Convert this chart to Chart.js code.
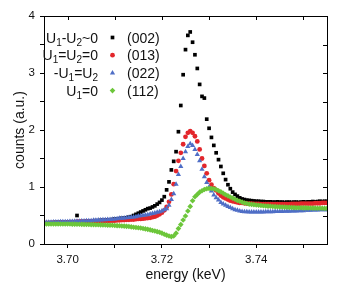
<!DOCTYPE html>
<html>
<head>
<meta charset="utf-8">
<script src="https://cdn.jsdelivr.net/npm/chart.js@4.4.1/dist/chart.umd.min.js"></script>
<style>
  html, body { margin: 0; padding: 0; background: #fff; }
  canvas { display: block; }
</style>
</head>
<body>
<canvas id="chart" width="339" height="289"></canvas>
<script>
// energy grid (keV)
const energy = [
  3.6955, 3.6960, 3.6965, 3.6970, 3.6975, 3.6980, 3.6985, 3.6990, 3.6995, 3.7000,
  3.7005, 3.7010, 3.7015, 3.7020, 3.7025, 3.7030, 3.7035, 3.7040, 3.7045, 3.7050,
  3.7055, 3.7060, 3.7065, 3.7070, 3.7075, 3.7080, 3.7085, 3.7090, 3.7095, 3.7100,
  3.7105, 3.7110, 3.7115, 3.7120, 3.7125, 3.7130, 3.7135, 3.7140, 3.7145, 3.7150,
  3.7155, 3.7160, 3.7165, 3.7170, 3.7175, 3.7180, 3.7185, 3.7190, 3.7195, 3.7200,
  3.7205, 3.7210, 3.7215, 3.7220, 3.7225, 3.7230, 3.7235, 3.7240, 3.7245, 3.7250,
  3.7255, 3.7260, 3.7265, 3.7270, 3.7275, 3.7280, 3.7285, 3.7290, 3.7295, 3.7300,
  3.7305, 3.7310, 3.7315, 3.7320, 3.7325, 3.7330, 3.7335, 3.7340, 3.7345, 3.7350,
  3.7355, 3.7360, 3.7365, 3.7370, 3.7375, 3.7380, 3.7385, 3.7390, 3.7395, 3.7400,
  3.7405, 3.7410, 3.7415, 3.7420, 3.7425, 3.7430, 3.7435, 3.7440, 3.7445, 3.7450,
  3.7455, 3.7460, 3.7465, 3.7470, 3.7475, 3.7480, 3.7485, 3.7490, 3.7495, 3.7500,
  3.7505, 3.7510, 3.7515, 3.7520, 3.7525, 3.7530, 3.7535, 3.7540, 3.7545, 3.7550
];

// (002)  U1-U2~0
const counts002 = [
  0.37, 0.37, 0.375, 0.37, 0.38, 0.38, 0.375, 0.385, 0.38, 0.385,
  0.385, 0.39, 0.385, 0.50, 0.39, 0.395, 0.39, 0.40, 0.40, 0.405,
  0.405, 0.41, 0.405, 0.415, 0.415, 0.42, 0.42, 0.425, 0.43, 0.435,
  0.44, 0.445, 0.45, 0.455, 0.46, 0.47, 0.48, 0.50, 0.52, 0.54,
  0.56, 0.58, 0.60, 0.62, 0.63, 0.65, 0.67, 0.70, 0.73, 0.77,
  0.83, 0.95, 1.09, 1.30, 1.45, 1.62, 1.97, 2.43, 2.97, 3.41,
  3.66, 3.72, 3.54, 3.32, 3.08, 2.80, 2.59, 2.56, 2.19, 2.03,
  1.87, 1.73, 1.60, 1.48, 1.36, 1.24, 1.13, 1.04, 0.97, 0.91,
  0.87, 0.84, 0.81, 0.79, 0.78, 0.77, 0.765, 0.76, 0.755, 0.75,
  0.75, 0.745, 0.745, 0.74, 0.74, 0.74, 0.735, 0.735, 0.74, 0.735,
  0.735, 0.73, 0.735, 0.735, 0.73, 0.735, 0.735, 0.73, 0.735, 0.74,
  0.735, 0.74, 0.74, 0.745, 0.74, 0.745, 0.75, 0.745, 0.75, 0.75
];

// (013)  U1=U2=0
const counts013 = [
  0.37, 0.37, 0.37, 0.375, 0.375, 0.375, 0.38, 0.38, 0.38, 0.38,
  0.385, 0.385, 0.385, 0.39, 0.39, 0.39, 0.39, 0.395, 0.395, 0.395,
  0.40, 0.40, 0.40, 0.40, 0.405, 0.405, 0.405, 0.41, 0.41, 0.41,
  0.415, 0.415, 0.42, 0.42, 0.425, 0.425, 0.43, 0.43, 0.435, 0.44,
  0.44, 0.445, 0.45, 0.455, 0.46, 0.47, 0.48, 0.50, 0.52, 0.55,
  0.59, 0.65, 0.74, 0.87, 1.05, 1.28, 1.46, 1.60, 1.75, 1.88,
  1.95, 1.98, 1.95, 1.89, 1.80, 1.66, 1.50, 1.37, 1.24, 1.12,
  1.04, 0.98, 0.94, 0.89, 0.85, 0.82, 0.80, 0.78, 0.76, 0.75,
  0.74, 0.73, 0.72, 0.72, 0.715, 0.71, 0.71, 0.71, 0.705, 0.705,
  0.705, 0.70, 0.70, 0.70, 0.70, 0.70, 0.70, 0.70, 0.70, 0.70,
  0.70, 0.70, 0.70, 0.70, 0.705, 0.705, 0.705, 0.705, 0.71, 0.71,
  0.71, 0.71, 0.71, 0.71, 0.715, 0.715, 0.715, 0.72, 0.72, 0.72
];

// (022)  -U1=U2
const counts022 = [
  0.38, 0.38, 0.38, 0.385, 0.385, 0.385, 0.39, 0.39, 0.39, 0.39,
  0.395, 0.395, 0.40, 0.40, 0.40, 0.405, 0.405, 0.41, 0.41, 0.41,
  0.415, 0.415, 0.42, 0.42, 0.425, 0.425, 0.43, 0.43, 0.435, 0.44,
  0.445, 0.45, 0.45, 0.455, 0.46, 0.465, 0.47, 0.475, 0.48, 0.49,
  0.495, 0.50, 0.51, 0.515, 0.525, 0.535, 0.545, 0.555, 0.565, 0.58,
  0.60, 0.62, 0.68, 0.78, 0.88, 1.05, 1.22, 1.36, 1.50, 1.62,
  1.71, 1.76, 1.73, 1.66, 1.57, 1.46, 1.31, 1.18, 1.08, 1.00,
  0.93, 0.86, 0.81, 0.77, 0.73, 0.70, 0.68, 0.66, 0.64, 0.62,
  0.60, 0.59, 0.58, 0.57, 0.565, 0.565, 0.56, 0.56, 0.56, 0.56,
  0.56, 0.56, 0.56, 0.565, 0.565, 0.565, 0.565, 0.57, 0.57, 0.57,
  0.57, 0.575, 0.575, 0.575, 0.58, 0.58, 0.58, 0.585, 0.585, 0.585,
  0.59, 0.59, 0.59, 0.595, 0.595, 0.595, 0.60, 0.60, 0.60, 0.60
];

// (112)  U1=0
const counts112 = [
  0.35, 0.35, 0.35, 0.35, 0.35, 0.35, 0.35, 0.35, 0.35, 0.35,
  0.35, 0.348, 0.348, 0.346, 0.346, 0.345, 0.344, 0.343, 0.342, 0.34,
  0.34, 0.338, 0.337, 0.336, 0.335, 0.333, 0.331, 0.33, 0.328, 0.325,
  0.322, 0.32, 0.317, 0.314, 0.31, 0.306, 0.30, 0.295, 0.29, 0.285,
  0.28, 0.273, 0.265, 0.257, 0.248, 0.238, 0.228, 0.217, 0.205, 0.19,
  0.17, 0.155, 0.14, 0.13, 0.14, 0.19, 0.27, 0.34, 0.42, 0.49,
  0.58, 0.66, 0.76, 0.83, 0.87, 0.91, 0.935, 0.955, 0.97, 0.975,
  0.975, 0.97, 0.955, 0.935, 0.915, 0.89, 0.865, 0.845, 0.825, 0.805,
  0.785, 0.765, 0.75, 0.735, 0.72, 0.71, 0.70, 0.695, 0.69, 0.685,
  0.68, 0.675, 0.67, 0.667, 0.664, 0.661, 0.658, 0.655, 0.653, 0.651,
  0.649, 0.647, 0.645, 0.643, 0.641, 0.639, 0.637, 0.636, 0.635, 0.634,
  0.633, 0.632, 0.631, 0.63, 0.629, 0.628, 0.627, 0.626, 0.625, 0.625
];

const reflections = ['(002)', '(013)', '(022)', '(112)'];
const conditions = ['U_1-U_2~0', 'U_1=U_2=0', '-U_1=U_2', 'U_1=0'];
const xTickValues = [3.70, 3.71, 3.72, 3.73, 3.74, 3.75];
const xTickLabels = ['3.70', '', '3.72', '', '3.74', ''];
const yTickValues = [0, 0.5, 1, 1.5, 2, 2.5, 3, 3.5, 4];
const yTickLabels = ['0', '', '1', '', '2', '', '3', '', '4'];

const FONT = "'Liberation Sans', Arial, sans-serif";
const colors = ['#000000', '#e3262b', '#4f6ec6', '#6cc63a'];
const styles = ['rect', 'circle', 'triangle', 'rectRot'];
const radii = [2.6, 2.4, 3.0, 2.8];
const series = [counts002, counts013, counts022, counts112];

const toPoints = (vals) => vals.map((v, i) => ({ x: energy[i], y: v }));

// frame on all four sides, with inward ticks on top and right
const framePlugin = {
  id: 'frame',
  afterDraw(chart) {
    const { ctx, chartArea: a, scales: { x, y } } = chart;
    ctx.save();
    ctx.strokeStyle = '#000';
    ctx.lineWidth = 1;
    ctx.strokeRect(Math.round(a.left) + 0.5, Math.round(a.top) + 0.5,
      Math.round(a.right - a.left), Math.round(a.bottom - a.top));
    ctx.beginPath();
    xTickValues.forEach(v => {
      const px = Math.round(x.getPixelForValue(v)) + 0.5;
      ctx.moveTo(px, a.top);
      ctx.lineTo(px, a.top + 4);
    });
    yTickValues.forEach(v => {
      const py = Math.round(y.getPixelForValue(v)) + 0.5;
      ctx.moveTo(a.right, py);
      ctx.lineTo(a.right - 4, py);
    });
    ctx.stroke();
    ctx.restore();
  }
};

// legend: condition (with subscripts) | marker | reflection
const legendPlugin = {
  id: 'subLegend',
  afterDraw(chart) {
    const ctx = chart.ctx;
    const main = '14px ' + FONT;
    const sub = '10px ' + FONT;
    ctx.save();
    ctx.fillStyle = '#111';
    ctx.textBaseline = 'alphabetic';
    conditions.forEach((txt, i) => {
      const base = 42.5 + i * 17.7;
      const parts = txt.split(/_(\d)/);
      let total = 0;
      parts.forEach((p, j) => { ctx.font = j % 2 ? sub : main; total += ctx.measureText(p).width; });
      let cx = 98 - total;
      parts.forEach((p, j) => {
        ctx.font = j % 2 ? sub : main;
        ctx.fillText(p, cx, j % 2 ? base + 3 : base);
        cx += ctx.measureText(p).width;
      });
      ctx.font = main;
      ctx.fillText(reflections[i], 127, base);

      ctx.fillStyle = colors[i];
      Chart.helpers.drawPoint(ctx, { pointStyle: styles[i], radius: radii[i], rotation: 0, borderWidth: 0 }, 112.5, base - 5);
      ctx.fillStyle = '#111';
    });
    ctx.restore();
  }
};

new Chart(document.getElementById('chart'), {
  type: 'scatter',
  data: {
    datasets: series.map((vals, i) => ({
      label: reflections[i],
      data: toPoints(vals),
      pointStyle: styles[i],
      pointRadius: radii[i],
      pointBackgroundColor: colors[i],
      pointBorderWidth: 0,
      showLine: false,
      order: 4 - i
    }))
  },
  options: {
    responsive: false,
    animation: false,
    layout: { padding: { top: 16, right: 12, left: 0, bottom: 0 } },
    plugins: { legend: { display: false }, tooltip: { enabled: false } },
    scales: {
      x: {
        type: 'linear',
        min: 3.695,
        max: 3.755,
        afterBuildTicks: (s) => { s.ticks = xTickValues.map(v => ({ value: v })); },
        afterFit: (s) => { s.height = 45; },
        ticks: {
          callback: (v) => xTickLabels[xTickValues.findIndex(t => Math.abs(t - v) < 1e-6)] ?? '',
          color: '#111',
          font: { family: FONT, size: 11.5 },
          padding: 5,
          maxRotation: 0,
          autoSkip: false
        },
        grid: { drawOnChartArea: false, tickLength: 4, color: '#000' },
        border: { display: true, color: '#000' },
        title: {
          display: true,
          text: 'energy (keV)',
          color: '#111',
          font: { family: FONT, size: 14, lineHeight: 1.2 },
          padding: { top: 0, bottom: 5 }
        }
      },
      y: {
        type: 'linear',
        min: 0,
        max: 4,
        afterBuildTicks: (s) => { s.ticks = yTickValues.map(v => ({ value: v })); },
        afterFit: (s) => { s.width = 44; },
        ticks: {
          callback: (v) => yTickLabels[yTickValues.indexOf(v)] ?? '',
          color: '#111',
          font: { family: FONT, size: 11.5 },
          padding: 5,
          autoSkip: false
        },
        grid: { drawOnChartArea: false, tickLength: 4, color: '#000' },
        border: { display: true, color: '#000' },
        title: {
          display: true,
          text: 'counts (a.u.)',
          color: '#111',
          font: { family: FONT, size: 14, lineHeight: 1.2 },
          padding: { top: 11.5, bottom: 0 }
        }
      }
    }
  },
  plugins: [framePlugin, legendPlugin]
});
</script>
</body>
</html>
